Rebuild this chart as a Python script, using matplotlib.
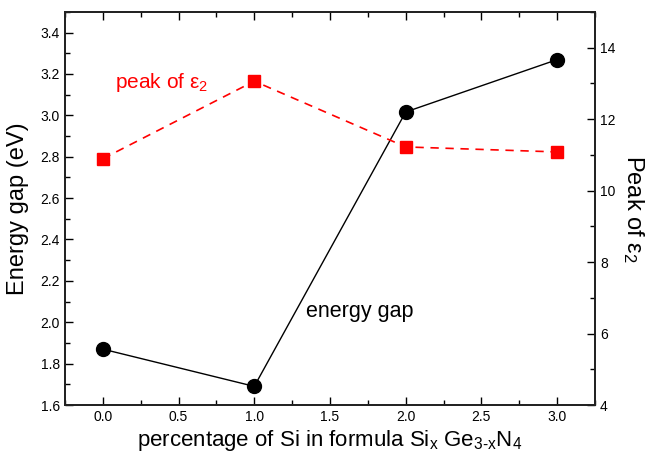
import matplotlib
matplotlib.use("Agg")
import matplotlib.pyplot as plt
from matplotlib.ticker import MultipleLocator, FormatStrFormatter

plt.rcParams["font.family"] = ["Liberation Sans", "DejaVu Sans"]
plt.rcParams["mathtext.fontset"] = "custom"
plt.rcParams["mathtext.rm"] = "Liberation Sans"
plt.rcParams["mathtext.it"] = "Liberation Sans:italic"

si_x = [0, 1, 2, 3]
energy_gap = [1.87, 1.69, 3.016, 3.269]
peak_eps2 = [10.89, 13.06, 11.22, 11.08]

fig = plt.figure(figsize=(6.51, 4.58), dpi=100)
ax = fig.add_axes([0.0998, 0.1157, 0.8142, 0.8585])
ax2 = ax.twinx()

ax.plot(si_x, energy_gap, color="black", lw=1, marker="o", markersize=10, zorder=3)
ax2.plot(si_x, peak_eps2, color="red", lw=1.2, ls=(0, (5, 4)), marker="s",
         markersize=8.5, zorder=3)

ax.set_xlim(-0.25, 3.25)
ax.set_ylim(1.6, 3.5)
ax2.set_ylim(4, 15)

ax.xaxis.set_major_locator(MultipleLocator(0.5))
ax.xaxis.set_minor_locator(MultipleLocator(0.25))
ax.yaxis.set_major_locator(MultipleLocator(0.2))
ax.yaxis.set_minor_locator(MultipleLocator(0.1))
ax2.yaxis.set_major_locator(MultipleLocator(2))
ax2.yaxis.set_minor_locator(MultipleLocator(1))
ax.xaxis.set_major_formatter(FormatStrFormatter("%.1f"))
ax.yaxis.set_major_formatter(FormatStrFormatter("%.1f"))

for a in (ax, ax2):
    for s in a.spines.values():
        s.set_linewidth(1.3)
        s.set_color("#222222")
    a.tick_params(which="both", direction="in", labelsize=10, width=1)
    a.tick_params(which="major", length=6)
    a.tick_params(which="minor", length=3.5)
ax.tick_params(which="both", top=True, right=False)
ax2.tick_params(which="both", right=True)

ax.set_xlabel("percentage of Si in formula Si$_\\mathrm{x}$ Ge$_\\mathrm{3\u2010x}$N$_\\mathrm{4}$",
              fontsize=16, labelpad=3)
ax.set_ylabel("Energy gap (eV)", fontsize=17, labelpad=8)
ax2.set_ylabel(r"Peak of ε$_2$", fontsize=17, rotation=270, labelpad=22)

ax.text(0.08, 3.16, r"peak of ε$_2$", color="red", fontsize=15, va="center")
ax.text(1.34, 2.05, "energy gap", color="black", fontsize=15.5, va="center")

fig.savefig("out.png", dpi=100)
